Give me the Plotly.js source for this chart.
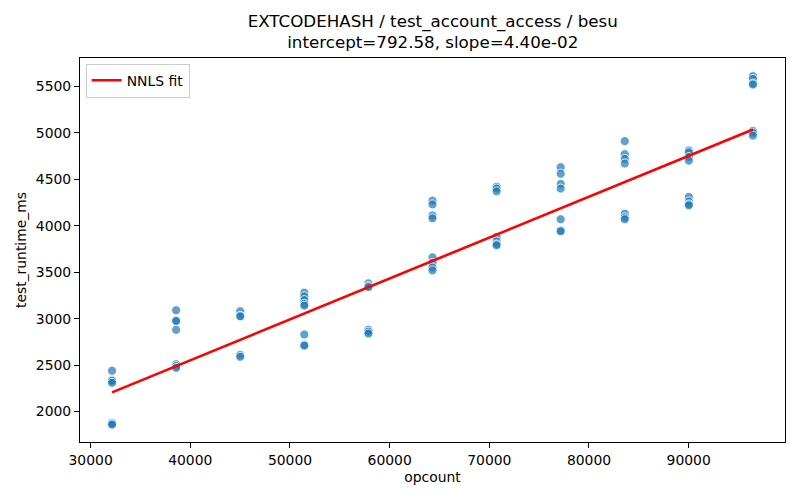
<!DOCTYPE html>
<html>
<head>
<meta charset="utf-8">
<script src="https://cdn.plot.ly/plotly-3.0.1.min.js"></script>
<style>
  body { margin: 0; background: #fff; }
  #myDiv { width: 800px; height: 500px; }
</style>
</head>
<body>
<div id="myDiv"></div>
<script>
// opcount levels and measured runtimes at each level
var opcountLevels = [32150, 38580, 45010, 51440, 57870, 64300, 70730, 77160, 83590, 90020, 96450];

var runtimes = [
    [2440, 2340, 2330, 2310, 1880, 1870, 1860],
    [3090, 2980, 2975, 2880, 2510, 2490, 2470],
    [3080, 3030, 3025, 2610, 2590],
    [3280, 3240, 3200, 3160, 3140, 2830, 2720, 2710],
    [3380, 3350, 3340, 2880, 2860, 2840],
    [4270, 4230, 4110, 4080, 3660, 3600, 3550, 3520],
    [4420, 4400, 4370, 3880, 3830, 3800, 3790],
    [4630, 4560, 4450, 4400, 4070, 3950, 3940],
    [4910, 4770, 4720, 4670, 4130, 4090, 4070],
    [4810, 4790, 4740, 4700, 4310, 4260, 4230, 4220],
    [5610, 5580, 5530, 5520, 5020, 5000, 4970]
];

var intercept = 792.58;
var slope = 0.044;

var xs = [], ys = [];
opcountLevels.forEach(function (x, i) {
    runtimes[i].forEach(function (y) {
        xs.push(x);
        ys.push(y);
    });
});

var xMin = Math.min.apply(null, opcountLevels);
var xMax = Math.max.apply(null, opcountLevels);

var points = {
    x: xs,
    y: ys,
    mode: 'markers',
    type: 'scatter',
    showlegend: false,
    marker: {
        size: 9,
        color: 'rgba(31,119,180,0.7)',
        line: { color: 'white', width: 0.8 }
    },
    hoverinfo: 'skip'
};

var fit = {
    x: [xMin, xMax],
    y: [intercept + slope * xMin, intercept + slope * xMax],
    mode: 'lines',
    type: 'scatter',
    name: 'NNLS fit',
    line: { color: 'red', width: 2.6 }
};

var axisStyle = {
    showline: true,
    mirror: true,
    linecolor: 'black',
    linewidth: 1,
    ticks: 'outside',
    ticklen: 5,
    tickcolor: 'black',
    showgrid: false,
    zeroline: false,
    tickfont: { size: 13.9, color: 'black' }
};

var layout = {
    width: 800,
    height: 500,
    font: { family: 'DejaVu Sans, sans-serif', color: 'black' },
    paper_bgcolor: 'white',
    plot_bgcolor: 'white',
    margin: { l: 80, r: 15, t: 58, b: 58 },
    title: {
        text: 'EXTCODEHASH / test_account_access / besu<br>intercept=792.58, slope=4.40e-02',
        font: { size: 16.7 },
        x: 0.541,
        xanchor: 'center',
        y: 0.947,
        yanchor: 'top'
    },
    xaxis: Object.assign({}, axisStyle, {
        range: [28935, 99665],
        tickvals: [30000, 40000, 50000, 60000, 70000, 80000, 90000],
        ticktext: ['30000', '40000', '50000', '60000', '70000', '80000', '90000'],
        title: { text: 'opcount', font: { size: 13.9 }, standoff: 5 }
    }),
    yaxis: Object.assign({}, axisStyle, {
        range: [1673, 5805],
        tickvals: [2000, 2500, 3000, 3500, 4000, 4500, 5000, 5500],
        ticktext: ['2000', '2500', '3000', '3500', '4000', '4500', '5000', '5500'],
        title: { text: 'test_runtime_ms', font: { size: 13.9 }, standoff: 5 }
    }),
    legend: {
        x: 0.008,
        y: 0.985,
        xanchor: 'left',
        yanchor: 'top',
        bgcolor: 'rgba(255,255,255,0.8)',
        bordercolor: '#cccccc',
        borderwidth: 1,
        font: { size: 13.9 }
    }
};

Plotly.newPlot('myDiv', [points, fit], layout, { displayModeBar: false, staticPlot: true });
</script>
</body>
</html>
